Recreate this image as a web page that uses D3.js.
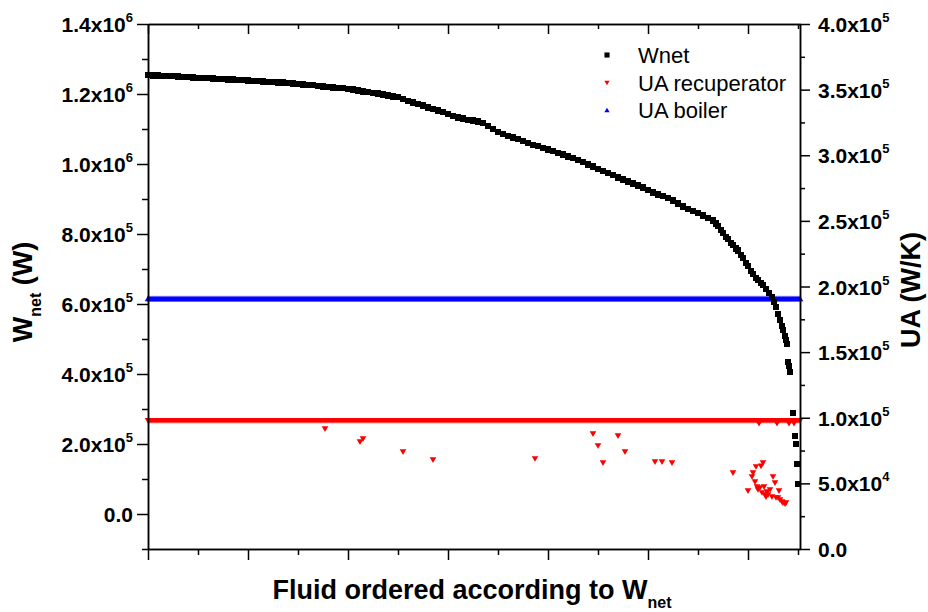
<!DOCTYPE html>
<html><head><meta charset="utf-8">
<script src="https://cdn.jsdelivr.net/npm/d3@7"></script>
<style>
body{margin:0;background:#fff}
svg{display:block}
text{font-family:"Liberation Sans",Arial,Helvetica,sans-serif}
</style>
</head><body>
<svg id="chart" width="928" height="612"></svg>
<script>
// ---- data: [fluid rank, value] ----
const wnet = [[0,1254300],[5,1253400],[10,1252900],[15,1252000],[20,1251400],[25,1250600],[30,1249700],[35,1249100],[40,1248600],[45,1247700],[50,1246300],[55,1245400],[60,1244900],[65,1244000],[70,1243100],[75,1242600],[80,1241700],[85,1240900],[90,1240000],[95,1239400],[100,1238900],[105,1237700],[110,1236900],[115,1236000],[120,1235100],[125,1234300],[130,1233400],[135,1232300],[140,1230900],[145,1230000],[150,1229100],[155,1227700],[160,1226300],[165,1224900],[170,1223400],[175,1222000],[180,1220600],[185,1219100],[190,1217700],[195,1216300],[200,1214900],[205,1212600],[210,1210000],[215,1207700],[220,1204900],[225,1202900],[230,1201100],[235,1198300],[240,1195700],[245,1193400],[250,1190900],[255,1185700],[260,1180000],[265,1175700],[270,1171400],[275,1167100],[280,1161400],[285,1156600],[290,1152900],[295,1148600],[300,1142900],[305,1137100],[310,1132900],[315,1129700],[320,1126300],[325,1124000],[330,1121400],[335,1116600],[340,1108600],[345,1100000],[350,1091400],[355,1085700],[360,1080600],[365,1075700],[370,1070600],[375,1065700],[380,1060000],[385,1054900],[390,1050600],[395,1046300],[400,1041400],[405,1037100],[410,1032000],[415,1027100],[420,1022000],[425,1017100],[430,1011400],[435,1005100],[440,999100],[445,992900],[450,985700],[455,980000],[460,974300],[465,968600],[470,962000],[475,955700],[480,950000],[485,944300],[490,939100],[495,932900],[500,925700],[505,918600],[510,912900],[515,908600],[520,902900],[525,895700],[530,887100],[535,878600],[540,871400],[545,865700],[550,860000],[555,852900],[560,845700],[565,838600],[568,830000],[570,822900],[573,811000],[575,802900],[578,792000],[580,785700],[583,775000],[585,768600],[588,759000],[590,752900],[593,740000],[595,731400],[598,717000],[600,708600],[603,694000],[605,685700],[608,675000],[610,668600],[613,660000],[615,654300],[618,642900],[621,631400],[624,620000],[626,605700],[628,591400],[630,571400],[632,554300],[634,537100],[635,525700],[637,508600],[638,497100],[639,485700],[640,434300],[641,422900],[642,405700],[645,288600],[647,222900],[648,200000],[649,142900],[650,85700]];

const uaRecuperator = [
[0,97700],[2,97700],[4,97700],[6,97700],[8,97700],[10,97700],[12,97700],[14,97700],[16,97700],[18,97700],[20,97700],[22,97700],[24,97700],[26,97700],[28,97700],[30,97700],[32,97700],[34,97700],[36,97700],[38,97700],
[40,97700],[42,97700],[44,97700],[46,97700],[48,97700],[50,97700],[52,97700],[54,97700],[56,97700],[58,97700],[60,97700],[62,97700],[64,97700],[66,97700],[68,97700],[70,97700],[72,97700],[74,97700],[76,97700],[78,97700],
[80,97700],[82,97700],[84,97700],[86,97700],[88,97700],[90,97700],[92,97700],[94,97700],[96,97700],[98,97700],[100,97700],[102,97700],[104,97700],[106,97700],[108,97700],[110,97700],[112,97700],[114,97700],[116,97700],[118,97700],
[120,97700],[122,97700],[124,97700],[126,97700],[128,97700],[130,97700],[132,97700],[134,97700],[136,97700],[138,97700],[140,97700],[142,97700],[144,97700],[146,97700],[148,97700],[150,97700],[152,97700],[154,97700],[156,97700],[158,97700],
[160,97700],[162,97700],[164,97700],[166,97700],[168,97700],[170,97700],[172,97700],[174,97700],[176,97700],[178,97700],[180,97700],[182,97700],[184,97700],[186,97700],[188,97700],[190,97700],[192,97700],[194,97700],[196,97700],[198,97700],
[200,97700],[202,97700],[204,97700],[206,97700],[208,97700],[210,97700],[212,97700],[214,97700],[216,97700],[218,97700],[220,97700],[222,97700],[224,97700],[226,97700],[228,97700],[230,97700],[232,97700],[234,97700],[236,97700],[238,97700],
[240,97700],[242,97700],[244,97700],[246,97700],[248,97700],[250,97700],[252,97700],[254,97700],[256,97700],[258,97700],[260,97700],[262,97700],[264,97700],[266,97700],[268,97700],[270,97700],[272,97700],[274,97700],[276,97700],[278,97700],
[280,97700],[282,97700],[284,97700],[286,97700],[288,97700],[290,97700],[292,97700],[294,97700],[296,97700],[298,97700],[300,97700],[302,97700],[304,97700],[306,97700],[308,97700],[310,97700],[312,97700],[314,97700],[316,97700],[318,97700],
[320,97700],[322,97700],[324,97700],[326,97700],[328,97700],[330,97700],[332,97700],[334,97700],[336,97700],[338,97700],[340,97700],[342,97700],[344,97700],[346,97700],[348,97700],[350,97700],[352,97700],[354,97700],[356,97700],[358,97700],
[360,97700],[362,97700],[364,97700],[366,97700],[368,97700],[370,97700],[372,97700],[374,97700],[376,97700],[378,97700],[380,97700],[382,97700],[384,97700],[386,97700],[388,97700],[390,97700],[392,97700],[394,97700],[396,97700],[398,97700],
[400,97700],[402,97700],[404,97700],[406,97700],[408,97700],[410,97700],[412,97700],[414,97700],[416,97700],[418,97700],[420,97700],[422,97700],[424,97700],[426,97700],[428,97700],[430,97700],[432,97700],[434,97700],[436,97700],[438,97700],
[440,97700],[442,97700],[444,97700],[446,97700],[448,97700],[450,97700],[452,97700],[454,97700],[456,97700],[458,97700],[460,97700],[462,97700],[464,97700],[466,97700],[468,97700],[470,97700],[472,97700],[474,97700],[476,97700],[478,97700],
[480,97700],[482,97700],[484,97700],[486,97700],[488,97700],[490,97700],[492,97700],[494,97700],[496,97700],[498,97700],[500,97700],[502,97700],[504,97700],[506,97700],[508,97700],[510,97700],[512,97700],[514,97700],[516,97700],[518,97700],
[520,97700],[522,97700],[524,97700],[526,97700],[528,97700],[530,97700],[532,97700],[534,97700],[536,97700],[538,97700],[540,97700],[542,97700],[544,97700],[546,97700],[548,97700],[550,97700],[552,97700],[554,97700],[556,97700],[558,97700],
[560,97700],[562,97700],[564,97700],[566,97700],[568,97700],[570,97700],[572,97700],[574,97700],[576,97700],[578,97700],[580,97700],[582,97700],[584,97700],[586,97700],[588,97700],[590,97700],[592,97700],[594,97700],[596,97700],[598,97700],
[600,97700],[602,97700],[604,97700],[606,97700],[608,97700],[610,97700],[612,97700],[614,97700],[616,97700],[618,97700],[620,97700],[622,97700],[624,97700],[626,97700],[628,97700],[630,97700],[632,97700],[634,97700],[636,97700],[638,97700],
[640,97700],[642,97700],[644,97700],[646,97700],[648,97700],[650,97700],[652,97700],
[177,91400],[212,81500],[215,83800],[255,73900],[285,67800],[387,68600],[445,87600],[450,78500],[455,65500],[470,86100],[477,73900],[507,66300],[514,66300],[524,65500],[585,57900],[600,44200],[604,54900],[605,57900],[607,51000],[608,62500],[609,47200],[610,45000],[611,95500],[612,46500],[613,63000],[614,42700],[615,65500],[616,47200],[617,41100],[618,39600],[619,43400],[620,41100],[622,45000],[624,39600],[625,54900],[627,50300],[628,38900],[629,95500],[630,38900],[631,44200],[632,37300],[634,35800],[635,35000],[637,34300],[638,35000],[641,95500],[646,95500]];

const uaBoiler = [
[0,190900],[2,190900],[4,190900],[6,190900],[8,190900],[10,190900],[12,190900],[14,190900],[16,190900],[18,190900],[20,190900],[22,190900],[24,190900],[26,190900],[28,190900],[30,190900],[32,190900],[34,190900],[36,190900],[38,190900],
[40,190900],[42,190900],[44,190900],[46,190900],[48,190900],[50,190900],[52,190900],[54,190900],[56,190900],[58,190900],[60,190900],[62,190900],[64,190900],[66,190900],[68,190900],[70,190900],[72,190900],[74,190900],[76,190900],[78,190900],
[80,190900],[82,190900],[84,190900],[86,190900],[88,190900],[90,190900],[92,190900],[94,190900],[96,190900],[98,190900],[100,190900],[102,190900],[104,190900],[106,190900],[108,190900],[110,190900],[112,190900],[114,190900],[116,190900],[118,190900],
[120,190900],[122,190900],[124,190900],[126,190900],[128,190900],[130,190900],[132,190900],[134,190900],[136,190900],[138,190900],[140,190900],[142,190900],[144,190900],[146,190900],[148,190900],[150,190900],[152,190900],[154,190900],[156,190900],[158,190900],
[160,190900],[162,190900],[164,190900],[166,190900],[168,190900],[170,190900],[172,190900],[174,190900],[176,190900],[178,190900],[180,190900],[182,190900],[184,190900],[186,190900],[188,190900],[190,190900],[192,190900],[194,190900],[196,190900],[198,190900],
[200,190900],[202,190900],[204,190900],[206,190900],[208,190900],[210,190900],[212,190900],[214,190900],[216,190900],[218,190900],[220,190900],[222,190900],[224,190900],[226,190900],[228,190900],[230,190900],[232,190900],[234,190900],[236,190900],[238,190900],
[240,190900],[242,190900],[244,190900],[246,190900],[248,190900],[250,190900],[252,190900],[254,190900],[256,190900],[258,190900],[260,190900],[262,190900],[264,190900],[266,190900],[268,190900],[270,190900],[272,190900],[274,190900],[276,190900],[278,190900],
[280,190900],[282,190900],[284,190900],[286,190900],[288,190900],[290,190900],[292,190900],[294,190900],[296,190900],[298,190900],[300,190900],[302,190900],[304,190900],[306,190900],[308,190900],[310,190900],[312,190900],[314,190900],[316,190900],[318,190900],
[320,190900],[322,190900],[324,190900],[326,190900],[328,190900],[330,190900],[332,190900],[334,190900],[336,190900],[338,190900],[340,190900],[342,190900],[344,190900],[346,190900],[348,190900],[350,190900],[352,190900],[354,190900],[356,190900],[358,190900],
[360,190900],[362,190900],[364,190900],[366,190900],[368,190900],[370,190900],[372,190900],[374,190900],[376,190900],[378,190900],[380,190900],[382,190900],[384,190900],[386,190900],[388,190900],[390,190900],[392,190900],[394,190900],[396,190900],[398,190900],
[400,190900],[402,190900],[404,190900],[406,190900],[408,190900],[410,190900],[412,190900],[414,190900],[416,190900],[418,190900],[420,190900],[422,190900],[424,190900],[426,190900],[428,190900],[430,190900],[432,190900],[434,190900],[436,190900],[438,190900],
[440,190900],[442,190900],[444,190900],[446,190900],[448,190900],[450,190900],[452,190900],[454,190900],[456,190900],[458,190900],[460,190900],[462,190900],[464,190900],[466,190900],[468,190900],[470,190900],[472,190900],[474,190900],[476,190900],[478,190900],
[480,190900],[482,190900],[484,190900],[486,190900],[488,190900],[490,190900],[492,190900],[494,190900],[496,190900],[498,190900],[500,190900],[502,190900],[504,190900],[506,190900],[508,190900],[510,190900],[512,190900],[514,190900],[516,190900],[518,190900],
[520,190900],[522,190900],[524,190900],[526,190900],[528,190900],[530,190900],[532,190900],[534,190900],[536,190900],[538,190900],[540,190900],[542,190900],[544,190900],[546,190900],[548,190900],[550,190900],[552,190900],[554,190900],[556,190900],[558,190900],
[560,190900],[562,190900],[564,190900],[566,190900],[568,190900],[570,190900],[572,190900],[574,190900],[576,190900],[578,190900],[580,190900],[582,190900],[584,190900],[586,190900],[588,190900],[590,190900],[592,190900],[594,190900],[596,190900],[598,190900],
[600,190900],[602,190900],[604,190900],[606,190900],[608,190900],[610,190900],[612,190900],[614,190900],[616,190900],[618,190900],[620,190900],[622,190900],[624,190900],[626,190900],[628,190900],[630,190900],[632,190900],[634,190900],[636,190900],[638,190900],
[640,190900],[642,190900],[644,190900],[646,190900],[648,190900],[650,190900],[652,190900]];

// ---- ticks & labels ----
const xDomain = [0, 652];
const xMajorTicks = [0,100,200,300,400,500,600];
const xMinorTicks = [50,150,250,350,450,550,650];
const leftDomain = [-1e5, 1.4e6];
const leftTicks = [0,2e5,4e5,6e5,8e5,1e6,1.2e6,1.4e6];
const leftTickLabels = ["0.0","2.0x10^5","4.0x10^5","6.0x10^5","8.0x10^5","1.0x10^6","1.2x10^6","1.4x10^6"];
const leftMinorTicks = [-1e5,1e5,3e5,5e5,7e5,9e5,1.1e6,1.3e6];
const rightDomain = [0, 4e5];
const rightTicks = [0,5e4,1e5,1.5e5,2e5,2.5e5,3e5,3.5e5,4e5];
const rightTickLabels = ["0.0","5.0x10^4","1.0x10^5","1.5x10^5","2.0x10^5","2.5x10^5","3.0x10^5","3.5x10^5","4.0x10^5"];
const rightMinorTicks = [2.5e4,7.5e4,1.25e5,1.75e5,2.25e5,2.75e5,3.25e5,3.75e5];
const legendLabels = ["Wnet","UA recuperator","UA boiler"];

// ---- layout ----
const L = 148, R = 800, T = 24, B = 549;
const svg = d3.select("#chart");
const x = d3.scaleLinear().domain(xDomain).range([L, R]);
const yL = d3.scaleLinear().domain(leftDomain).range([B, T]);
const yR = d3.scaleLinear().domain(rightDomain).range([B, T]);

const sq = "M-3.2,-3.2H3.2V3.2H-3.2Z";
const triDown = "M-3.3,-2.7H3.3L0,2.9Z";
const triUp = "M-3.3,2.7H3.3L0,-2.9Z";

// series (blue, red, then black on top)
svg.append("g").selectAll("path").data(uaBoiler).join("path")
  .attr("d", triUp).attr("fill", "#0000ff")
  .attr("transform", d => `translate(${x(d[0])},${yR(d[1])})`);
svg.append("g").selectAll("path").data(uaRecuperator).join("path")
  .attr("d", triDown).attr("fill", "#ff0000")
  .attr("transform", d => `translate(${x(d[0])},${yR(d[1])})`);
svg.append("g").selectAll("path").data(wnet).join("path")
  .attr("d", sq).attr("fill", "#000").attr("shape-rendering","crispEdges")
  .attr("transform", d => `translate(${x(d[0])},${yL(d[1])})`);

function styleAxis(g){
  g.selectAll("path.domain").attr("stroke","#000").attr("stroke-width",1.5);
  g.selectAll(".tick line").attr("stroke","#000").attr("stroke-width",1.5);
  g.selectAll(".tick text").remove();
}
function supLabels(g, labels, anchor, dx){
  g.selectAll(".tick").each(function(d,i){
    const parts = labels[i].split("^");
    const t = d3.select(this).append("text")
      .attr("x", dx).attr("y", 0).attr("dy","0.36em")
      .attr("text-anchor", anchor)
      .attr("font-size", 21).attr("font-weight","bold").attr("fill","#000");
    t.append("tspan").text(parts[0]);
    if (parts[1]) t.append("tspan").attr("font-size",13).attr("dy",-10).text(parts[1]);
  });
}

// bottom axis
svg.append("g").attr("transform",`translate(0,${B})`)
  .call(d3.axisBottom(x).tickValues(xMinorTicks).tickSize(6).tickSizeOuter(0).tickFormat(""))
  .call(styleAxis);
svg.append("g").attr("transform",`translate(0,${B})`)
  .call(d3.axisBottom(x).tickValues(xMajorTicks).tickSize(11).tickSizeOuter(0).tickFormat(""))
  .call(styleAxis);
// top axis (inward ticks)
svg.append("g").attr("transform",`translate(0,${T})`)
  .call(d3.axisTop(x).tickValues(xMinorTicks).tickSize(-5).tickSizeOuter(0).tickFormat(""))
  .call(styleAxis);
svg.append("g").attr("transform",`translate(0,${T})`)
  .call(d3.axisTop(x).tickValues(xMajorTicks).tickSize(-10).tickSizeOuter(0).tickFormat(""))
  .call(styleAxis);
// left axis
svg.append("g").attr("transform",`translate(${L},0)`)
  .call(d3.axisLeft(yL).tickValues(leftMinorTicks).tickSize(6).tickSizeOuter(0).tickFormat(""))
  .call(styleAxis);
const gl = svg.append("g").attr("transform",`translate(${L},0)`)
  .call(d3.axisLeft(yL).tickValues(leftTicks).tickSize(11).tickSizeOuter(0).tickFormat(""))
  .call(styleAxis);
supLabels(gl, leftTickLabels, "end", -15);
// right axis
svg.append("g").attr("transform",`translate(${R},0)`)
  .call(d3.axisRight(yR).tickValues(rightMinorTicks).tickSize(5).tickSizeOuter(0).tickFormat(""))
  .call(styleAxis);
const gr = svg.append("g").attr("transform",`translate(${R},0)`)
  .call(d3.axisRight(yR).tickValues(rightTicks).tickSize(10).tickSizeOuter(0).tickFormat(""))
  .call(styleAxis);
supLabels(gr, rightTickLabels, "start", 18);

// axis titles
const xt = svg.append("text").attr("x", 472).attr("y", 599).attr("text-anchor","middle")
  .attr("font-size",27).attr("font-weight","bold").attr("fill","#000");
xt.append("tspan").text("Fluid ordered according to W");
xt.append("tspan").attr("font-size",16).attr("dy",9).text("net");

const ylt = svg.append("text").attr("transform","translate(32,292) rotate(-90)")
  .attr("text-anchor","middle").attr("font-size",27).attr("font-weight","bold").attr("fill","#000");
ylt.append("tspan").text("W");
ylt.append("tspan").attr("font-size",16).attr("dy",9).text("net");
ylt.append("tspan").attr("dy",-9).text(" (W)");

svg.append("text").attr("transform","translate(920,290) rotate(-90)")
  .attr("text-anchor","middle").attr("font-size",27).attr("font-weight","bold").attr("fill","#000")
  .text("UA (W/K)");

// legend
const legendSymbols = [[sq,"#000"],[triDown,"#ff0000"],[triUp,"#0000ff"]];
const legendRows = [55, 83, 110];
legendLabels.forEach((lab,i)=>{
  svg.append("path").attr("d",legendSymbols[i][0]).attr("fill",legendSymbols[i][1])
    .attr("transform",`translate(607,${legendRows[i]}) scale(0.8)`);
  svg.append("text").attr("x",638).attr("y",legendRows[i]+7.5)
    .attr("font-size",22).attr("fill","#000").text(lab);
});
</script>
</body></html>
